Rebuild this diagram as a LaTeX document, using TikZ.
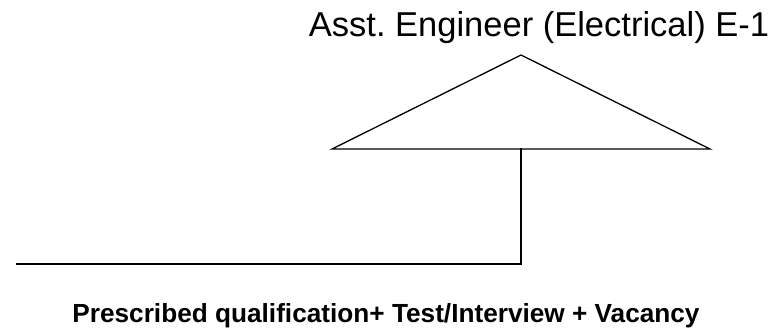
\documentclass[tikz,border=0pt]{standalone}
\usepackage{fontspec}
\setmainfont{Liberation Sans}
\usepackage{xcolor}
\usetikzlibrary{positioning,calc}
\definecolor{ink}{HTML}{000000}
\tikzset{
    every picture/.style={line cap=rect,line join=miter},
    postline/.style={draw=ink,line width=1.3pt},
    posttitle/.style={inner sep=0pt,anchor=base,text=ink,
      font=\fontsize{34.5}{40}\selectfont},
    criteria/.style={inner sep=0pt,anchor=base,text=ink,
      font=\bfseries\fontsize{26.2}{30}\selectfont}
}
\begin{document}
\frenchspacing
\begin{tikzpicture}[x=1pt,y=-1pt]
    \useasboundingbox (0,0) rectangle (776,335);
    \node[posttitle] (title) at (539,36) {Asst. Engineer (Electrical) E-1};
    \coordinate (apex) at (521,55);
    \coordinate (baseL) at (332,149);
    \coordinate (baseR) at (710,149);
    \coordinate (baseM) at (521,149);
    \coordinate (corner) at (521,264);
    \coordinate (lineEnd) at (17,264);
    \draw[postline] (apex)--(baseR)--(baseL)--cycle;
    \draw[postline] (baseM)--(corner)--(lineEnd);
    \node[criteria] (rule) at (386,322) {Prescribed qualification+ Test/Interview + Vacancy};
\end{tikzpicture}
\end{document}
